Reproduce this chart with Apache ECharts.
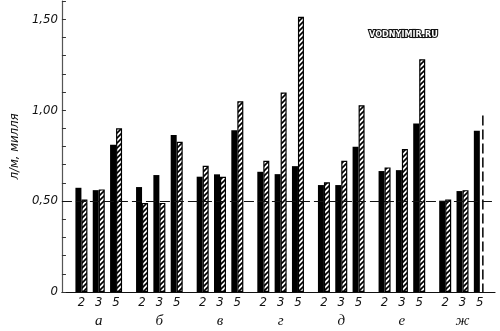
<!DOCTYPE html>
<html><head><meta charset="utf-8">
<script src="https://cdn.jsdelivr.net/npm/echarts@6/dist/echarts.min.js"></script>
<style>html,body{margin:0;padding:0;background:#fff}#c{width:500px;height:331px}</style>
</head><body><div id="c"></div>
<script>
// ---- data ----
const groups = ['а', 'б', 'в', 'г', 'д', 'е', 'ж'];
const subgroups = ['2', '3', '5'];
const yTickLabels = ['0', '0,50', '1,00', '1,50'];
// black bars, per group: subgroups 2, 3, 5
const blackValues = [
  0.573, 0.560, 0.810,
  0.577, 0.643, 0.863,
  0.634, 0.647, 0.890,
  0.661, 0.648, 0.692,
  0.588, 0.588, 0.798,
  0.665, 0.670, 0.927,
  0.502, 0.555, 0.886
];
// hatched bars
const hatchedValues = [
  0.509, 0.564, 0.900,
  0.490, 0.490, 0.826,
  0.694, 0.634, 1.049,
  0.721, 1.097, 1.513,
  0.603, 0.721, 1.027,
  0.685, 0.786, 1.280,
  0.509, 0.560, null
];
const dashedBarValue = 0.97;   // ж, 5 : dashed (open) bar
const refLevel = 0.50;
const yName = 'л/м, милля';

// ---- layout in category slots ----
const LEAD = 4, GROUP_SLOTS = 14, SUB_SLOTS = 4, TOTAL = 100;
const cats = [], numLabels = [], letterLabels = [];
const blackData = [], hatchedData = [];
for (let i = 0; i < TOTAL; i++) {
  cats.push('c' + i); numLabels.push(''); letterLabels.push('');
  blackData.push(null); hatchedData.push(null);
}
let dashedIndex = 0;
groups.forEach((g, gi) => {
  subgroups.forEach((s, si) => {
    const idx = LEAD + gi * GROUP_SLOTS + si * SUB_SLOTS;
    numLabels[idx] = s;
    if (si === 1) letterLabels[idx] = g;
    blackData[idx] = blackValues[gi * 3 + si];
    hatchedData[idx] = hatchedValues[gi * 3 + si];
    if (gi === groups.length - 1 && si === 2) dashedIndex = idx;
  });
});

// hatch pattern
const P = 5;
const pc = document.createElement('canvas');
pc.width = P; pc.height = P;
const px = pc.getContext('2d');
px.fillStyle = '#fff'; px.fillRect(0, 0, P, P);
px.strokeStyle = '#000'; px.lineWidth = 1.6;
px.beginPath();
px.moveTo(-1, P + 1); px.lineTo(P + 1, -1);
px.moveTo(-1, 1); px.lineTo(1, -1);
px.moveTo(P - 1, P + 1); px.lineTo(P + 1, P - 1);
px.stroke();

const chart = echarts.init(document.getElementById('c'), null, {renderer: 'canvas'});
const numFont = "'Liberation Sans Narrow', 'DejaVu Sans Condensed', 'Liberation Sans', sans-serif";
chart.setOption({
  animation: false,
  backgroundColor: '#fff',
  grid: {left: 42, right: 5, top: 1, bottom: 39, containLabel: false},
  xAxis: [{
    type: 'category', data: cats, boundaryGap: true,
    axisLine: {show: true, lineStyle: {color: '#111', width: 1.2}},
    axisTick: {show: false},
    axisLabel: {interval: 0, margin: 4, fontSize: 13, fontStyle: 'italic', color: '#111',
      fontFamily: numFont, formatter: (v, i) => numLabels[i]},
    splitLine: {show: false}
  }, {
    type: 'category', data: cats, boundaryGap: true, position: 'bottom', offset: 18,
    axisLine: {show: false}, axisTick: {show: false},
    axisLabel: {interval: 0, margin: 4, fontSize: 15, fontStyle: 'italic', color: '#111',
      fontFamily: "'Liberation Serif', 'DejaVu Serif', serif", formatter: (v, i) => letterLabels[i]},
    splitLine: {show: false}
  }],
  yAxis: {
    type: 'value', min: 0, max: 1.6, interval: 0.1,
    axisLine: {show: true, lineStyle: {color: '#555', width: 1.2}},
    axisTick: {show: true, inside: true, length: 4, lineStyle: {color: '#333'}},
    axisLabel: {margin: 4, fontSize: 13, fontStyle: 'italic', color: '#111', fontFamily: numFont,
      formatter: v => {
        const k = Math.round(v * 2);
        if (Math.abs(v * 2 - k) > 1e-6 || k > 3) return '';
        return yTickLabels[k];
      }},
    splitLine: {show: false},
    name: yName, nameLocation: 'middle', nameRotate: 90, nameGap: 19,
    nameTextStyle: {fontSize: 13, fontStyle: 'italic', color: '#111', fontFamily: numFont}
  },
  series: [{
    name: 'black', type: 'bar', data: blackData, barWidth: 6, barGap: '0%',
    itemStyle: {color: '#000'},
    markLine: {
      silent: true, symbol: 'none', label: {show: false},
      lineStyle: {color: '#111', width: 1.2, type: [10, 4]},
      data: [{yAxis: refLevel}]
    }
  }, {
    name: 'hatched', type: 'bar', data: hatchedData, barWidth: 6, barGap: '0%',
    itemStyle: {color: {image: pc, repeat: 'repeat'}, borderColor: '#000', borderWidth: 1.2}
  }, {
    name: 'dashed', type: 'custom', data: [[dashedIndex, dashedBarValue]],
    encode: {x: 0, y: 1}, z: 3,
    renderItem: (params, api) => {
      const top = api.coord([api.value(0), api.value(1)]);
      const base = api.coord([api.value(0), 0]);
      const dx = 3;
      return {type: 'line', shape: {x1: top[0] + dx, y1: top[1], x2: base[0] + dx, y2: base[1]},
        style: {stroke: '#111', lineWidth: 1.6, lineDash: [10, 4]}};
    }
  }],
  graphic: [{
    type: 'text', left: 368, top: 29,
    style: {text: 'VODNYIMIR.RU', fontSize: 9, fontWeight: 'bold', fontFamily: "'DejaVu Sans Condensed', 'DejaVu Sans', sans-serif",
      fill: '#fff', stroke: '#111', lineWidth: 2.2}
  }]
});
</script></body></html>
